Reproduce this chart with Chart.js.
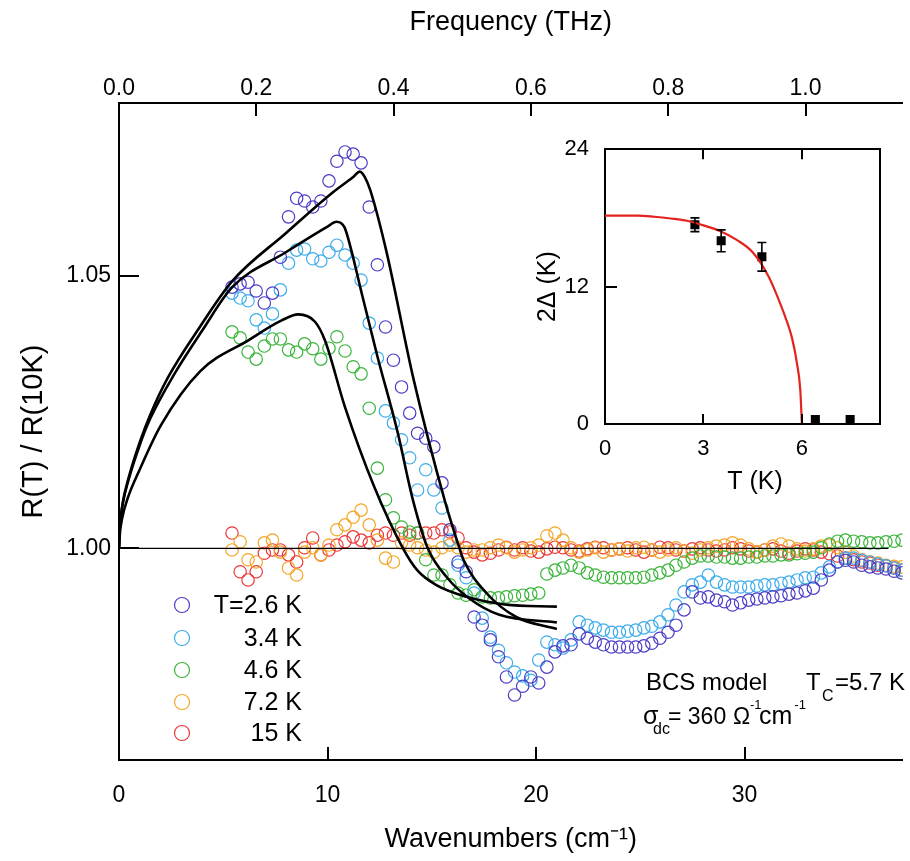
<!DOCTYPE html>
<html><head><meta charset="utf-8">
<script src="https://cdn.jsdelivr.net/npm/chart.js@4.4.1/dist/chart.umd.min.js"></script>
<style>
html,body{margin:0;padding:0;background:#fff;}
#wrap{position:relative;width:910px;height:861px;overflow:hidden;}
#mainBox{position:absolute;left:0;top:0;width:910px;height:861px;}
#insetBox{position:absolute;left:530px;top:120px;width:370px;height:380px;}
</style></head><body>
<div id="wrap">
<div id="mainBox"><canvas id="main"></canvas></div>
<div id="insetBox"><canvas id="inset"></canvas></div>
</div>
<script>
// ---------- data ----------
const waveNumbers = [5.42,5.81,6.19,6.58,6.97,7.36,7.74,8.13,8.52,8.90,
9.29,9.68,10.07,10.45,10.84,11.23,11.61,12.00,12.39,12.78,
13.16,13.55,13.94,14.32,14.71,15.10,15.49,15.87,16.26,16.65,
17.03,17.42,17.81,18.20,18.58,18.97,19.36,19.75,20.13,20.52,
20.91,21.29,21.68,22.07,22.46,22.84,23.23,23.62,24.00,24.39,
24.78,25.17,25.55,25.94,26.33,26.71,27.10,27.49,27.88,28.26,
28.65,29.04,29.42,29.81,30.20,30.59,30.97,31.36,31.75,32.13,
32.52,32.91,33.30,33.68,34.07,34.46,34.84,35.23,35.62,36.01,
36.39,36.78,37.17,37.55];

const r2_6K = [1.0479,1.0485,1.0488,1.0472,1.0450,1.0468,1.0534,1.0608,1.0642,1.0637,
1.0626,1.0637,1.0674,1.0710,1.0727,1.0723,1.0707,1.0626,1.0520,1.0406,
1.0345,1.0296,1.0248,1.0211,1.0202,1.0186,1.0120,1.0034,0.9975,0.9957,
0.9874,0.9859,0.9832,0.9801,0.9764,0.9731,0.9747,0.9764,0.9753,0.9782,
0.9810,0.9821,0.9823,0.9843,0.9835,0.9828,0.9823,0.9819,0.9819,0.9819,
0.9819,0.9821,0.9826,0.9835,0.9846,0.9859,0.9887,0.9920,0.9909,0.9911,
0.9905,0.9902,0.9896,0.9900,0.9905,0.9907,0.9909,0.9911,0.9913,0.9916,
0.9918,0.9922,0.9927,0.9942,0.9960,0.9975,0.9978,0.9975,0.9969,0.9966,
0.9964,0.9962,0.9958,0.9955];

const r3_4K = [1.0468,1.0459,1.0454,1.0419,1.0404,1.0430,1.0474,1.0523,1.0547,1.0549,
1.0531,1.0527,1.0543,1.0556,1.0538,1.0523,1.0492,1.0413,1.0349,1.0252,
1.0230,1.0199,1.0166,1.0107,1.0144,1.0107,1.0074,1.0015,0.9969,0.9946,
0.9918,0.9872,0.9837,0.9813,0.9790,0.9773,0.9766,0.9758,0.9795,0.9828,
0.9823,0.9817,0.9832,0.9865,0.9859,0.9854,0.9850,0.9846,0.9846,0.9848,
0.9850,0.9854,0.9857,0.9865,0.9878,0.9896,0.9920,0.9933,0.9938,0.9951,
0.9938,0.9933,0.9929,0.9929,0.9929,0.9931,0.9933,0.9933,0.9936,0.9938,
0.9942,0.9946,0.9947,0.9955,0.9966,0.9975,0.9982,0.9982,0.9978,0.9975,
0.9971,0.9968,0.9964,0.9960];

const r4_6K = [1.0397,1.0386,1.0360,1.0347,1.0371,1.0384,1.0384,1.0364,1.0360,1.0375,
1.0366,1.0347,1.0367,1.0388,1.0362,1.0333,1.0320,1.0257,1.0147,1.0089,
1.0056,1.0039,1.0030,1.0028,0.9979,0.9951,0.9951,0.9933,0.9918,0.9914,
0.9924,0.9911,0.9909,0.9909,0.9911,0.9913,0.9914,0.9916,0.9918,0.9953,
0.9960,0.9964,0.9969,0.9964,0.9955,0.9951,0.9947,0.9946,0.9946,0.9946,
0.9946,0.9947,0.9951,0.9955,0.9960,0.9969,0.9975,0.9982,0.9986,0.9986,
0.9984,0.9984,0.9982,0.9982,0.9984,0.9984,0.9986,0.9986,0.9988,0.9988,
0.9990,0.9991,0.9993,1.0001,1.0008,1.0013,1.0015,1.0013,1.0012,1.0010,
1.0010,1.0012,1.0013,1.0015];

const r7_2K = [0.9997,1.0012,0.9979,0.9975,1.0010,1.0015,0.9993,0.9964,0.9951,0.9993,
1.0001,0.9988,1.0006,1.0034,1.0043,1.0057,1.0070,1.0043,1.0015,0.9982,
0.9975,1.0010,1.0006,1.0001,0.9997,0.9993,1.0001,1.0006,1.0001,0.9993,
0.9997,0.9997,1.0001,1.0006,1.0001,0.9993,0.9997,1.0001,1.0006,1.0023,
1.0028,1.0015,1.0001,0.9993,0.9997,1.0001,0.9993,0.9997,0.9999,0.9995,
1.0001,1.0002,0.9997,0.9993,0.9997,1.0001,0.9995,0.9991,0.9997,1.0001,
1.0004,1.0006,1.0010,1.0006,0.9999,0.9993,0.9997,1.0004,1.0008,1.0004,
0.9999,0.9995,0.9999,1.0004,1.0006,1.0001,0.9993,0.9986,0.9979,0.9975,
0.9973,0.9969,0.9967,0.9966];

const r15K = [1.0028,0.9957,0.9942,0.9957,0.9991,0.9997,0.9997,0.9988,0.9975,1.0001,
1.0019,0.9988,0.9997,1.0006,1.0012,1.0021,1.0015,1.0010,1.0024,1.0028,
1.0024,1.0028,1.0024,1.0028,1.0028,1.0028,1.0034,1.0030,1.0019,1.0001,
0.9993,0.9988,0.9991,0.9997,1.0002,0.9997,1.0001,0.9995,0.9993,0.9999,
1.0002,1.0001,0.9997,0.9995,0.9999,1.0002,1.0001,0.9997,0.9999,1.0001,
0.9997,0.9993,0.9997,1.0002,1.0001,0.9997,0.9995,0.9999,1.0001,0.9997,
0.9995,0.9997,1.0001,0.9999,0.9995,0.9993,0.9997,0.9999,0.9995,0.9991,
0.9995,0.9999,0.9997,0.9993,0.9990,0.9986,0.9982,0.9979,0.9975,0.9973,
0.9969,0.9968,0.9964,0.9960];

// BCS model curves
const bcsA_k = [0,0.03,0.1,0.2,0.43,1.0,1.5,2.33,3.86,5.43,8.0,10.19,11.2,11.55,11.79,12.05,12.81,14.14,15.62,16.33,16.52,17.62,19.05,21.0];
const bcsA_R = [1.0,1.0035,1.0062,1.0088,1.0125,1.0195,1.0245,1.0312,1.0405,1.0490,1.0578,1.0651,1.0680,1.0691,1.0681,1.0657,1.0547,1.0308,1.0088,1.0,0.9979,0.9918,0.9874,0.9852];
const bcsB_k = [0,0.03,0.1,0.2,0.43,1.0,1.5,2.66,4.0,5.43,8.0,10.0,10.43,10.81,11.14,11.6,12.4,13.35,14.1,14.81,15.76,16.8,18.24,21.0];
const bcsB_R = [1.0,1.0035,1.0061,1.0086,1.0122,1.019,1.0238,1.0320,1.0400,1.0479,1.0543,1.0590,1.0599,1.0589,1.0547,1.0474,1.0351,1.0215,1.0088,1.0,0.9945,0.9908,0.9878,0.9864];
const bcsC_k = [0,0.05,0.15,0.4,1.0,2.0,3.9,6.22,7.8,8.6,9.39,9.87,10.83,12.24,13.62,14.3,15.2,16.67,18.5,21.0];
const bcsC_R = [1.0,1.003,1.0055,1.009,1.0145,1.0225,1.0325,1.0382,1.0418,1.0429,1.0416,1.0382,1.0260,1.0113,1.0,0.9960,0.9933,0.9911,0.9897,0.9893];
const unityLine_k = [0, 36.9];
const unityLine_R = [1.0, 1.0];

const seriesLabels = ['T=2.6 K','3.4 K','4.6 K','7.2 K','15 K'];
const bottomTicks = [0,10,20,30];
const topTicks = [0.0,0.2,0.4,0.6,0.8,1.0];
const leftTicks = [1.00,1.05];

// inset: gap vs temperature
const insetT = [2.74,3.54,4.78,6.41,7.47];
const insetGap = [17.4,16.0,14.6,0.4,0.4];
const insetErr = [0.6,0.95,1.25,0,0];
const fitT = [0,1.0,1.5,2.0,2.5,3.0,3.5,4.0,4.5,5.0,5.3,5.5,5.7,5.85,5.95,6.0];
const fitGap = [18.2,18.2,18.1,17.95,17.75,17.35,16.85,16.1,15.0,12.8,10.8,9.3,7.5,5.3,3.0,0];
const insetXTicks = [0,3,6];
const insetYTicks = [0,12,24];

// ---------- helpers ----------
const pts = (xs, ys) => xs.map((x, i) => ({x: x, y: ys[i]}));
const FONT = '"Liberation Sans", Arial, Helvetica, sans-serif';
Chart.defaults.font.family = FONT;
Chart.defaults.color = '#000';
Chart.defaults.animation = false;

const inTicks = {
  id: 'inTicks',
  afterDraw(chart, args, opts) {
    const ctx = chart.ctx, a = chart.chartArea;
    ctx.save();
    ctx.strokeStyle = '#000';
    ctx.lineWidth = opts.width || 2;
    (opts.list || []).forEach(cfg => {
      const s = chart.scales[cfg.scale];
      s.ticks.forEach(t => {
        if (Math.abs(t.value - s.min) < 1e-9 || Math.abs(t.value - s.max) < 1e-9) return;
        const p = Math.round(s.getPixelForValue(t.value));
        ctx.beginPath();
        if (cfg.edge === 'bottom') { ctx.moveTo(p, a.bottom); ctx.lineTo(p, a.bottom - cfg.len); }
        if (cfg.edge === 'top') { ctx.moveTo(p, a.top); ctx.lineTo(p, a.top + cfg.len); }
        if (cfg.edge === 'left') { ctx.moveTo(a.left, p); ctx.lineTo(a.left + cfg.len, p); }
        ctx.stroke();
      });
    });
    ctx.restore();
  }
};

const mainDecor = {
  id: 'mainDecor',
  afterDraw(chart) {
    const ctx = chart.ctx;
    ctx.save();
    // legend
    const legY = [605, 638, 670, 702, 733];
    for (let i = 0; i < 5; i++) {
      const ds = chart.data.datasets[4 + i];
      ctx.beginPath();
      ctx.strokeStyle = ds.borderColor;
      ctx.lineWidth = 1.2;
      ctx.arc(182, legY[i], 7.5, 0, Math.PI * 2);
      ctx.stroke();
      ctx.fillStyle = '#000';
      ctx.font = '25px ' + FONT;
      ctx.textAlign = 'right';
      ctx.textBaseline = 'middle';
      ctx.fillText(seriesLabels[i], 302, legY[i] + 1);
    }
    // annotation
    ctx.textAlign = 'left';
    ctx.textBaseline = 'alphabetic';
    ctx.fillStyle = '#000';
    ctx.font = '24px ' + FONT;
    ctx.fillText('BCS model', 646, 690);
    ctx.fillText('T', 806, 690);
    ctx.font = '16px ' + FONT;
    ctx.fillText('C', 822, 701);
    ctx.font = '24px ' + FONT;
    ctx.fillText('=5.7 K', 835, 690);
    ctx.font = '25px ' + FONT;
    ctx.fillText('\u03C3', 643, 724);
    ctx.font = '16px ' + FONT;
    ctx.fillText('dc', 653, 734);
    ctx.font = '23px ' + FONT;
    ctx.fillText('= 360', 668, 724);
    ctx.fillText('\u03A9', 733, 724);
    ctx.font = '13px ' + FONT;
    ctx.fillText('-1', 750, 709);
    ctx.font = '25px ' + FONT;
    ctx.fillText('cm', 759, 724);
    const cmW = ctx.measureText('cm').width;
    ctx.font = '13px ' + FONT;
    ctx.fillText('-1', 759 + cmW + 2, 709);
    ctx.restore();
  }
};

const circleSeries = (ys, color) => ({
  data: pts(waveNumbers, ys),
  showLine: false,
  pointStyle: 'circle',
  pointRadius: 6.2,
  pointBorderWidth: 1.2,
  borderColor: color,
  pointBorderColor: color,
  backgroundColor: 'rgba(0,0,0,0)',
  pointBackgroundColor: 'rgba(0,0,0,0)'
});
const lineSeries = (xs, ys, w) => ({
  data: pts(xs, ys),
  showLine: true,
  pointRadius: 0,
  borderColor: '#000',
  borderWidth: w,
  cubicInterpolationMode: 'monotone',
  fill: false
});

new Chart(document.getElementById('main'), {
  type: 'scatter',
  data: {
    datasets: [
      lineSeries(bcsA_k, bcsA_R, 2.6),
      lineSeries(bcsB_k, bcsB_R, 2.6),
      lineSeries(bcsC_k, bcsC_R, 2.6),
      Object.assign(lineSeries(unityLine_k, unityLine_R, 1.3), {cubicInterpolationMode: 'default', tension: 0}),
      circleSeries(r2_6K, '#4b3ec6'),
      circleSeries(r3_4K, '#3dacea'),
      circleSeries(r4_6K, '#3ab43a'),
      circleSeries(r7_2K, '#f3a628'),
      circleSeries(r15K, '#e93838')
    ]
  },
  options: {
    responsive: true,
    maintainAspectRatio: false,
    animation: false,
    layout: {padding: 0},
    plugins: {
      legend: {display: false},
      tooltip: {enabled: false},
      inTicks: {width: 2, list: [
        {scale: 'x', edge: 'bottom', len: 13},
        {scale: 'x2', edge: 'top', len: 13},
        {scale: 'y', edge: 'left', len: 20}
      ]}
    },
    scales: {
      x: {
        type: 'linear', position: 'bottom', min: 0, max: 37.58,
        afterBuildTicks: s => { s.ticks = bottomTicks.map(v => ({value: v})); },
        afterFit: s => { s.height = 101; },
        grid: {display: false, drawTicks: false},
        border: {display: true, color: '#000', width: 2},
        ticks: {font: {size: 23}, color: '#000', padding: 22, maxRotation: 0, callback: v => String(v)},
        title: {display: true, text: 'Wavenumbers (cm\u207B\u00B9)', font: {size: 27}, color: '#000', padding: {bottom: 5}}
      },
      x2: {
        type: 'linear', position: 'top', axis: 'x', min: 0, max: 1.1414,
        afterBuildTicks: s => { s.ticks = topTicks.map(v => ({value: v})); },
        afterFit: s => { s.height = 103; },
        grid: {display: false, drawTicks: false},
        border: {display: true, color: '#000', width: 2},
        ticks: {font: {size: 23}, color: '#000', padding: 1, maxRotation: 0, callback: v => Number(v).toFixed(1)},
        title: {display: true, text: 'Frequency (THz)', font: {size: 27}, color: '#000', padding: {top: 6}}
      },
      y: {
        type: 'linear', position: 'left', min: 0.96117, max: 1.08168,
        afterBuildTicks: s => { s.ticks = leftTicks.map(v => ({value: v})); },
        afterFit: s => { s.width = 119; },
        grid: {display: false, drawTicks: false},
        border: {display: true, color: '#000', width: 2},
        ticks: {font: {size: 23}, color: '#000', padding: 8, callback: v => Number(v).toFixed(2)},
        title: {display: true, text: 'R(T) / R(10K)', font: {size: 29}, color: '#000', padding: {top: 17}}
      }
    }
  },
  plugins: [inTicks, mainDecor]
});

// ---------- inset ----------
const errBars = {
  id: 'errBars',
  afterDatasetsDraw(chart) {
    const ctx = chart.ctx;
    const meta = chart.getDatasetMeta(1);
    const ys = chart.scales.y;
    ctx.save();
    ctx.strokeStyle = '#000';
    ctx.lineWidth = 1.6;
    insetErr.forEach((e, i) => {
      if (!e) return;
      const x = meta.data[i].x;
      const y1 = ys.getPixelForValue(insetGap[i] - e);
      const y2 = ys.getPixelForValue(insetGap[i] + e);
      ctx.beginPath();
      ctx.moveTo(x, y1); ctx.lineTo(x, y2);
      ctx.moveTo(x - 4.5, y1); ctx.lineTo(x + 4.5, y1);
      ctx.moveTo(x - 4.5, y2); ctx.lineTo(x + 4.5, y2);
      ctx.stroke();
    });
    ctx.restore();
  }
};

// x-axis title of the inset, sitting slightly right of the axis centre as in the figure
const insetXTitle = {
  id: 'insetXTitle',
  afterDraw(chart) {
    const ctx = chart.ctx;
    ctx.save();
    ctx.fillStyle = '#000';
    ctx.font = '25px ' + FONT;
    ctx.textAlign = 'center';
    ctx.textBaseline = 'middle';
    ctx.fillText('T (K)', 225, 362);
    ctx.restore();
  }
};

new Chart(document.getElementById('inset'), {
  type: 'scatter',
  data: {
    datasets: [
      {data: pts(fitT, fitGap), showLine: true, pointRadius: 0, borderColor: '#e3231e', borderWidth: 2.2, cubicInterpolationMode: 'monotone', fill: false},
      {data: pts(insetT, insetGap), showLine: false, pointStyle: 'rect', pointRadius: 6.4, pointBorderWidth: 0, backgroundColor: '#000', pointBackgroundColor: '#000', borderColor: '#000'}
    ]
  },
  options: {
    responsive: true,
    maintainAspectRatio: false,
    animation: false,
    layout: {padding: {top: 28, right: 20, left: 0, bottom: 0}},
    plugins: {
      legend: {display: false},
      tooltip: {enabled: false},
      inTicks: {width: 2, list: [
        {scale: 'x', edge: 'bottom', len: 10},
        {scale: 'x', edge: 'top', len: 10},
        {scale: 'y', edge: 'left', len: 12}
      ]}
    },
    scales: {
      x: {
        type: 'linear', position: 'bottom', min: 0, max: 8.38,
        afterBuildTicks: s => { s.ticks = insetXTicks.map(v => ({value: v})); },
        afterFit: s => { s.height = 76; },
        grid: {display: false, drawTicks: false},
        border: {display: true, color: '#000', width: 2},
        ticks: {font: {size: 22}, color: '#000', padding: 12, maxRotation: 0},
        title: {display: false}
      },
      xTop: {
        type: 'linear', position: 'top', axis: 'x', min: 0, max: 8.38,
        afterFit: s => { s.height = 0; },
        grid: {display: false, drawTicks: false},
        border: {display: true, color: '#000', width: 2},
        ticks: {display: false}
      },
      y: {
        type: 'linear', position: 'left', min: 0, max: 24,
        afterBuildTicks: s => { s.ticks = insetYTicks.map(v => ({value: v})); },
        afterFit: s => { s.width = 75; },
        grid: {display: false, drawTicks: false},
        border: {display: true, color: '#000', width: 2},
        ticks: {font: {size: 22}, color: '#000', padding: 16},
        title: {display: true, text: '2\u0394 (K)', font: {size: 25}, color: '#000', padding: {top: 3}}
      },
      yRight: {
        type: 'linear', position: 'right', axis: 'y', min: 0, max: 24,
        afterFit: s => { s.width = 0; },
        grid: {display: false, drawTicks: false},
        border: {display: true, color: '#000', width: 2},
        ticks: {display: false}
      }
    }
  },
  plugins: [inTicks, errBars, insetXTitle]
});
</script>
</body></html>
